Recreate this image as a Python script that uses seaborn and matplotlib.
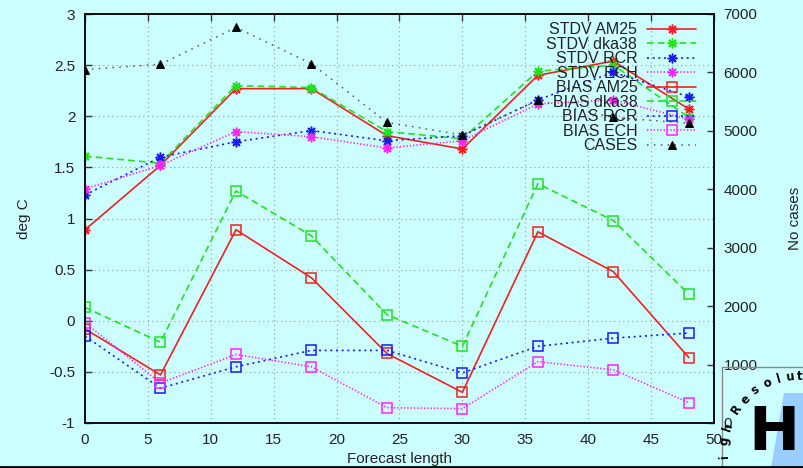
import matplotlib
matplotlib.use('Agg')
import matplotlib.pyplot as plt
from matplotlib.patches import Polygon
import numpy as np
import seaborn as sns

# forecast hours
forecast_length = [0, 6, 12, 18, 24, 30, 36, 42, 48]

# deg C
stdv_am25 = [0.89, 1.52, 2.27, 2.27, 1.81, 1.68, 2.40, 2.54, 2.07]
stdv_dka38 = [1.61, 1.54, 2.30, 2.28, 1.85, 1.78, 2.44, 2.50, 1.99]
stdv_rcr = [1.23, 1.60, 1.75, 1.86, 1.76, 1.81, 2.16, 2.43, 2.19]
stdv_ech = [1.29, 1.52, 1.85, 1.80, 1.69, 1.76, 2.12, 2.16, 1.97]
bias_am25 = [-0.08, -0.53, 0.89, 0.42, -0.32, -0.70, 0.87, 0.48, -0.36]
bias_dka38 = [0.13, -0.21, 1.27, 0.83, 0.06, -0.25, 1.34, 0.98, 0.26]
bias_rcr = [-0.15, -0.66, -0.45, -0.29, -0.29, -0.51, -0.25, -0.17, -0.12]
bias_ech = [-0.02, -0.61, -0.33, -0.45, -0.85, -0.86, -0.40, -0.48, -0.80]

# number of cases (right axis)
cases = [6050, 6140, 6770, 6150, 5145, 4930, 5520, 5230, 5130]

series_labels = ['STDV AM25', 'STDV dka38', 'STDV RCR', 'STDV ECH',
                 'BIAS AM25', 'BIAS dka38', 'BIAS RCR', 'BIAS ECH']
series_values = [stdv_am25, stdv_dka38, stdv_rcr, stdv_ech,
                 bias_am25, bias_dka38, bias_rcr, bias_ech]

BG = '#ccffff'
colors = ['#f02020', '#22e022', '#1a1aff', '#ff22ff']
dash_styles = ['-', (0, (4, 2.5)), (0, (1.2, 2.2)), (0, (0.8, 1.2))]
asterisk = (8, 2, 0)

sns.set_style('white')
plt.rcParams['font.family'] = ['Liberation Sans', 'DejaVu Sans']

fig = plt.figure(figsize=(8.04, 4.68), dpi=100, facecolor=BG)
ax = fig.add_axes([85 / 804, 45 / 468, 629 / 804, 409 / 468])
ax.set_facecolor('none')
ax2 = ax.twinx()

for i, (lab, vals) in enumerate(zip(series_labels, series_values)):
    c = colors[i % 4]
    is_stdv = i < 4
    sns.lineplot(x=forecast_length, y=vals, ax=ax, color=c, lw=1.2,
                 linestyle=dash_styles[i % 4], label=lab,
                 marker=asterisk if is_stdv else 's',
                 markersize=7 if is_stdv else 6.5,
                 markerfacecolor=c if is_stdv else 'none',
                 markeredgecolor=c, markeredgewidth=1.1, zorder=3)

sns.lineplot(x=forecast_length, y=cases, ax=ax2, color='#555555', lw=1.1,
             linestyle=(0, (1, 3.5)), marker='^', markersize=6,
             markerfacecolor='black', markeredgecolor='black', label='CASES')

ax.set_xlim(0, 50)
ax.set_ylim(-1, 3)
ax2.set_ylim(0, 7000)
ax.set_xticks(np.arange(0, 51, 5))
ax.set_yticks(np.arange(-1, 3.01, 0.5))
ax.set_yticklabels(['-1', '-0.5', '0', '0.5', '1', '1.5', '2', '2.5', '3'])
ax2.set_yticks(np.arange(0, 7001, 1000))

ax.grid(True, color='#999999', linestyle=(0, (1, 3)), linewidth=0.8)
ax.tick_params(axis='both', direction='in', length=5, width=1, labelsize=11,
               pad=7, top=True, colors='#333333', labelcolor='#222222')
ax2.tick_params(axis='y', direction='in', length=5, width=1, labelsize=11,
                pad=7, colors='#333333', labelcolor='#222222')
for sp in list(ax.spines.values()) + list(ax2.spines.values()):
    sp.set_linewidth(1.4)
    sp.set_color('#111111')

ax.set_xlabel('Forecast length', fontsize=11, labelpad=4, color='#222222')
ax.set_ylabel('deg C', fontsize=11, labelpad=13, color='#222222')
ax2.set_ylabel('No cases', fontsize=11, labelpad=22, color='#222222')

handles = [h for h in ax.get_lines() if h.get_label() in series_labels]
handles += [h for h in ax2.get_lines() if h.get_label() == 'CASES']
if ax.get_legend():
    ax.get_legend().remove()
leg = ax2.legend(handles, [h.get_label() for h in handles], loc='upper right',
                 bbox_to_anchor=(0.972, 0.98), markerfirst=False, frameon=False,
                 fontsize=11.5, labelspacing=-0.03, handlelength=3.1,
                 handletextpad=0.6, borderaxespad=0, borderpad=0)
for col in leg._legend_handle_box.get_children():
    col.align = 'right'
for t in leg.get_texts():
    t.set_color('#222222')

# logo in the corner
lg = fig.add_axes([0, 0, 1, 1], zorder=5)
lg.set_xlim(0, 804)
lg.set_ylim(468, 0)
lg.axis('off')
lg.plot([722, 804], [367, 367], color='#888888', lw=1)
lg.plot([722, 722], [367, 468], color='#888888', lw=1)
lg.add_patch(Polygon([(784, 393), (804, 393), (804, 468), (771, 468)],
                     closed=True, color='#99ccff', lw=0))
lg.text(774, 434, 'H', fontsize=44, fontweight='bold', ha='center', va='center',
        family='DejaVu Sans', color='black')
letters = 'ighResolut'
angles = [183, 172, 161, 146, 136, 126, 115, 106, 98, 90]
for ch, a in zip(letters, angles):
    th = np.deg2rad(a)
    px = 800 + 76 * np.cos(th)
    py = 452 - 76 * np.sin(th)
    lg.text(px, py, ch, fontsize=8.5, fontweight='bold', ha='center', va='center',
            rotation=a - 90, family='DejaVu Sans', color='black')
lg.plot([0, 804], [467, 467], color='black', lw=2)

fig.savefig('out.png', dpi=100, facecolor=BG)
